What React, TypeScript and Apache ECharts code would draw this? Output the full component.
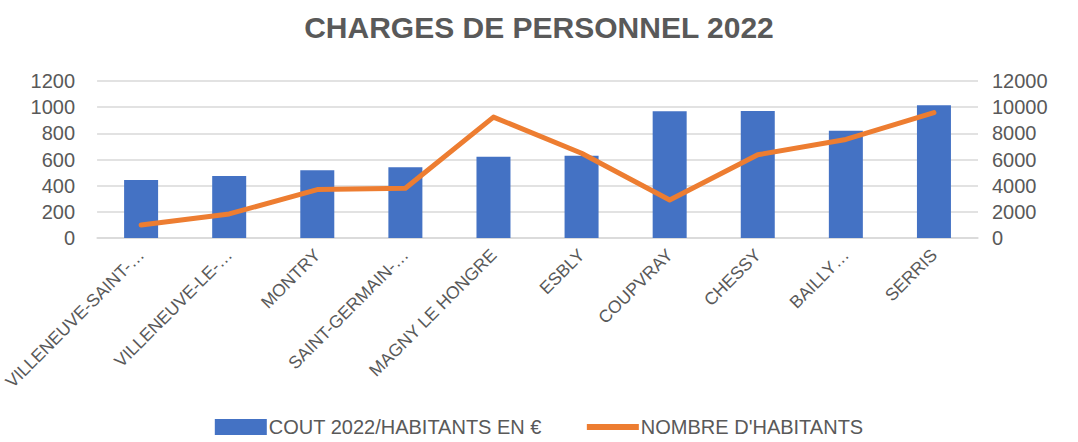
import React, { useEffect, useRef } from "react";
import * as echarts from "echarts";

const categories = [
  "VILLENEUVE-SAINT-…",
  "VILLENEUVE-LE-…",
  "MONTRY",
  "SAINT-GERMAIN-…",
  "MAGNY LE HONGRE",
  "ESBLY",
  "COUPVRAY",
  "CHESSY",
  "BAILLY…",
  "SERRIS",
];
const coutParHabitant = [443, 474, 517, 540, 621, 629, 968, 970, 820, 1014];
const nombreHabitants = [1000, 1840, 3700, 3800, 9240, 6480, 2910, 6360, 7530, 9580];
const leftTicks = { min: 0, max: 1200, interval: 200 };
const rightTicks = { min: 0, max: 12000, interval: 2000 };

const FONT = "'Liberation Sans', Arial, sans-serif";
const GRAY = "#595959";

export default function App() {
  const ref = useRef<HTMLDivElement>(null);
  useEffect(() => {
    if (!ref.current) return;
    const chart = echarts.init(ref.current, null, { renderer: "svg" });
    chart.setOption({
      animation: false,
      backgroundColor: "#ffffff",
      textStyle: { fontFamily: FONT },
      title: {
        text: "CHARGES DE PERSONNEL 2022",
        left: "center",
        top: 7,
        textStyle: { fontFamily: FONT, fontSize: 30, fontWeight: "bold", color: GRAY },
      },
      legend: {
        bottom: 0,
        left: "center",
        itemGap: 45,
        itemWidth: 52,
        itemHeight: 16,
        textStyle: { fontFamily: FONT, fontSize: 20, color: GRAY, padding: [0, 0, 0, -3] },
        data: [
          { name: "COUT 2022/HABITANTS EN €", icon: "rect" },
          { name: "NOMBRE D'HABITANTS", icon: "path://M0,0 L52,0 L52,6 L0,6 Z" },
        ],
      },
      grid: { left: 95, right: 100, top: 81, bottom: 204, containLabel: false },
      xAxis: {
        type: "category",
        data: categories,
        axisLine: { lineStyle: { color: "#D9D9D9", width: 1.5 } },
        axisTick: { show: false },
        axisLabel: {
          rotate: 45,
          interval: 0,
          margin: 14,
          fontFamily: FONT,
          fontSize: 17.5,
          color: GRAY,
        },
      },
      yAxis: [
        {
          type: "value",
          ...leftTicks,
          position: "left",
          axisLine: { show: false },
          axisTick: { show: false },
          axisLabel: {
            fontFamily: FONT,
            fontSize: 20,
            color: GRAY,
            margin: 22,
            formatter: (v: number) => String(v),
          },
          splitLine: { lineStyle: { color: "#D9D9D9", width: 1.5 } },
        },
        {
          type: "value",
          ...rightTicks,
          position: "right",
          axisLine: { show: false },
          axisTick: { show: false },
          axisLabel: {
            fontFamily: FONT,
            fontSize: 20,
            color: GRAY,
            margin: 14,
            formatter: (v: number) => String(v),
          },
          splitLine: { show: false },
        },
      ],
      series: [
        {
          name: "COUT 2022/HABITANTS EN €",
          type: "bar",
          data: coutParHabitant,
          yAxisIndex: 0,
          barWidth: 34,
          itemStyle: { color: "#4472C4" },
        },
        {
          name: "NOMBRE D'HABITANTS",
          type: "line",
          data: nombreHabitants,
          yAxisIndex: 1,
          symbol: "none",
          lineStyle: { color: "#ED7D31", width: 5, cap: "round", join: "round" },
          itemStyle: { color: "#ED7D31" },
        },
      ],
    });
    return () => chart.dispose();
  }, []);
  return (
    <div
      ref={ref}
      style={{ position: "fixed", left: 0, top: 0, width: 1078, height: 442 }}
    />
  );
}
